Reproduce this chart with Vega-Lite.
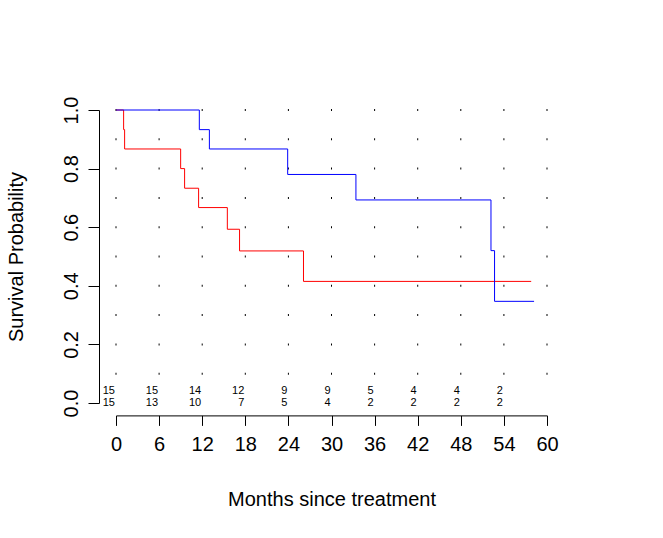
{
  "$schema": "https://vega.github.io/schema/vega-lite/v6.json",
  "autosize": "none",
  "padding": {"left": 116, "top": 110, "right": 116, "bottom": 135},
  "width": 431,
  "height": 293,
  "background": "white",
  "config": {
    "view": {"stroke": null},
    "font": "Liberation Sans",
    "axis": {"grid": false, "labelFlush": false, "labelOverlap": false, "domainColor": "black", "tickColor": "black", "labelColor": "black", "titleColor": "black", "labelFontSize": 20, "titleFontSize": 20, "titleFontWeight": "normal", "labelFont": "Liberation Sans", "titleFont": "Liberation Sans", "domainWidth": 1, "tickWidth": 1}
  },
  "datasets": {
    "curves": [
      {"group": "A", "t": 0, "s": 1},
      {"group": "A", "t": 1.06, "s": 0.933},
      {"group": "A", "t": 1.2, "s": 0.867},
      {"group": "A", "t": 9.0, "s": 0.8},
      {"group": "A", "t": 9.55, "s": 0.733},
      {"group": "A", "t": 11.5, "s": 0.667},
      {"group": "A", "t": 15.5, "s": 0.593},
      {"group": "A", "t": 17.2, "s": 0.519},
      {"group": "A", "t": 26.1, "s": 0.415},
      {"group": "A", "t": 57.8, "s": 0.415},
      {"group": "B", "t": 0, "s": 1},
      {"group": "B", "t": 11.6, "s": 0.933},
      {"group": "B", "t": 13.0, "s": 0.867},
      {"group": "B", "t": 23.9, "s": 0.78},
      {"group": "B", "t": 33.4, "s": 0.693},
      {"group": "B", "t": 52.2, "s": 0.52},
      {"group": "B", "t": 52.7, "s": 0.347},
      {"group": "B", "t": 58.2, "s": 0.347}
    ],
    "risk": [
      {"t": 0, "row": 0.04, "n": 15}, {"t": 6, "row": 0.04, "n": 15}, {"t": 12, "row": 0.04, "n": 14}, {"t": 18, "row": 0.04, "n": 12}, {"t": 24, "row": 0.04, "n": 9},
      {"t": 30, "row": 0.04, "n": 9}, {"t": 36, "row": 0.04, "n": 5}, {"t": 42, "row": 0.04, "n": 4}, {"t": 48, "row": 0.04, "n": 4}, {"t": 54, "row": 0.04, "n": 2},
      {"t": 0, "row": 0, "n": 15}, {"t": 6, "row": 0, "n": 13}, {"t": 12, "row": 0, "n": 10}, {"t": 18, "row": 0, "n": 7}, {"t": 24, "row": 0, "n": 5},
      {"t": 30, "row": 0, "n": 4}, {"t": 36, "row": 0, "n": 2}, {"t": 42, "row": 0, "n": 2}, {"t": 48, "row": 0, "n": 2}, {"t": 54, "row": 0, "n": 2}
    ],
    "dots": [
      {"t":0,"p":0.1},{"t":0,"p":0.2},{"t":0,"p":0.3},{"t":0,"p":0.4},{"t":0,"p":0.5},{"t":0,"p":0.6},{"t":0,"p":0.7},{"t":0,"p":0.8},{"t":0,"p":0.9},{"t":0,"p":1.0},
      {"t":6,"p":0.1},{"t":6,"p":0.2},{"t":6,"p":0.3},{"t":6,"p":0.4},{"t":6,"p":0.5},{"t":6,"p":0.6},{"t":6,"p":0.7},{"t":6,"p":0.8},{"t":6,"p":0.9},{"t":6,"p":1.0},
      {"t":12,"p":0.1},{"t":12,"p":0.2},{"t":12,"p":0.3},{"t":12,"p":0.4},{"t":12,"p":0.5},{"t":12,"p":0.6},{"t":12,"p":0.7},{"t":12,"p":0.8},{"t":12,"p":0.9},{"t":12,"p":1.0},
      {"t":18,"p":0.1},{"t":18,"p":0.2},{"t":18,"p":0.3},{"t":18,"p":0.4},{"t":18,"p":0.5},{"t":18,"p":0.6},{"t":18,"p":0.7},{"t":18,"p":0.8},{"t":18,"p":0.9},{"t":18,"p":1.0},
      {"t":24,"p":0.1},{"t":24,"p":0.2},{"t":24,"p":0.3},{"t":24,"p":0.4},{"t":24,"p":0.5},{"t":24,"p":0.6},{"t":24,"p":0.7},{"t":24,"p":0.8},{"t":24,"p":0.9},{"t":24,"p":1.0},
      {"t":30,"p":0.1},{"t":30,"p":0.2},{"t":30,"p":0.3},{"t":30,"p":0.4},{"t":30,"p":0.5},{"t":30,"p":0.6},{"t":30,"p":0.7},{"t":30,"p":0.8},{"t":30,"p":0.9},{"t":30,"p":1.0},
      {"t":36,"p":0.1},{"t":36,"p":0.2},{"t":36,"p":0.3},{"t":36,"p":0.4},{"t":36,"p":0.5},{"t":36,"p":0.6},{"t":36,"p":0.7},{"t":36,"p":0.8},{"t":36,"p":0.9},{"t":36,"p":1.0},
      {"t":42,"p":0.1},{"t":42,"p":0.2},{"t":42,"p":0.3},{"t":42,"p":0.4},{"t":42,"p":0.5},{"t":42,"p":0.6},{"t":42,"p":0.7},{"t":42,"p":0.8},{"t":42,"p":0.9},{"t":42,"p":1.0},
      {"t":48,"p":0.1},{"t":48,"p":0.2},{"t":48,"p":0.3},{"t":48,"p":0.4},{"t":48,"p":0.5},{"t":48,"p":0.6},{"t":48,"p":0.7},{"t":48,"p":0.8},{"t":48,"p":0.9},{"t":48,"p":1.0},
      {"t":54,"p":0.1},{"t":54,"p":0.2},{"t":54,"p":0.3},{"t":54,"p":0.4},{"t":54,"p":0.5},{"t":54,"p":0.6},{"t":54,"p":0.7},{"t":54,"p":0.8},{"t":54,"p":0.9},{"t":54,"p":1.0},
      {"t":60,"p":0.1},{"t":60,"p":0.2},{"t":60,"p":0.3},{"t":60,"p":0.4},{"t":60,"p":0.5},{"t":60,"p":0.6},{"t":60,"p":0.7},{"t":60,"p":0.8},{"t":60,"p":0.9},{"t":60,"p":1.0}
    ]
  },
  "layer": [
    {
      "data": {"name": "dots"},
      "mark": {"type": "tick", "orient": "vertical", "size": 2, "thickness": 1, "color": "black", "opacity": 1},
      "encoding": {
        "x": {"field": "t", "type": "quantitative", "scale": {"domain": [0, 60], "nice": false, "zero": false},
          "axis": {"values": [0, 6, 12, 18, 24, 30, 36, 42, 48, 54, 60], "offset": 12.4, "tickSize": 10, "labelPadding": 9, "title": "Months since treatment", "titlePadding": 35}},
        "y": {"field": "p", "type": "quantitative", "scale": {"domain": [0, 1], "nice": false, "zero": false},
          "axis": {"values": [0, 0.2, 0.4, 0.6, 0.8, 1.0], "format": ".1f", "offset": 17, "tickSize": 11, "labelPadding": 11, "labelAngle": 270, "labelAlign": "center", "labelBaseline": "alphabetic", "title": "Survival Probability", "titlePadding": 35}}
      }
    },
    {
      "data": {"name": "curves"},
      "transform": [{"filter": "datum.group === 'A'"}],
      "mark": {"type": "line", "interpolate": "step-after", "color": "#FF0000", "strokeWidth": 1},
      "encoding": {
        "x": {"field": "t", "type": "quantitative"},
        "y": {"field": "s", "type": "quantitative"}
      }
    },
    {
      "data": {"name": "curves"},
      "transform": [{"filter": "datum.group === 'B'"}],
      "mark": {"type": "line", "interpolate": "step-after", "color": "#0000FF", "strokeWidth": 1},
      "encoding": {
        "x": {"field": "t", "type": "quantitative"},
        "y": {"field": "s", "type": "quantitative"}
      }
    },
    {
      "data": {"name": "risk"},
      "mark": {"type": "text", "align": "right", "baseline": "middle", "fontSize": 11, "color": "black", "dx": -1, "font": "Liberation Sans"},
      "encoding": {
        "x": {"field": "t", "type": "quantitative"},
        "y": {"field": "row", "type": "quantitative"},
        "text": {"field": "n", "type": "quantitative"}
      }
    }
  ]
}
